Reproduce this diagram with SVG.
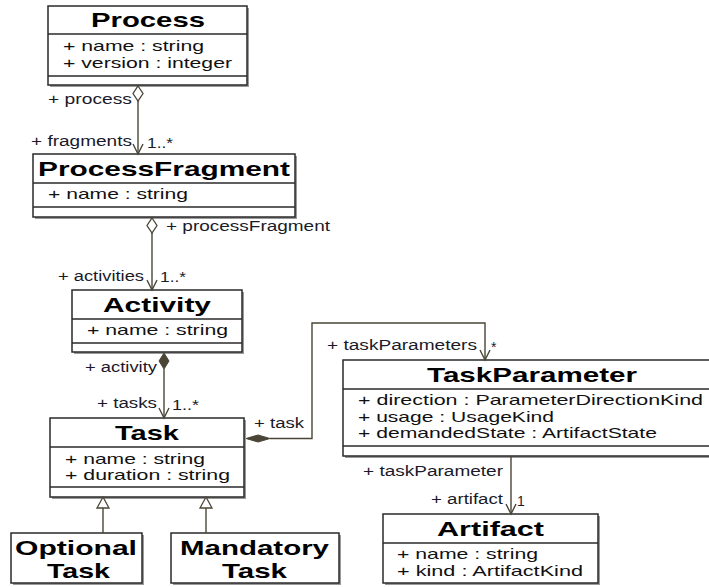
<svg xmlns="http://www.w3.org/2000/svg" width="709" height="587" viewBox="0 0 709 587">
<style>
.sh{fill:#9a9a9a}
.bx{fill:#fff;stroke:#2a2a2a;stroke-width:1.5}
.sep{stroke:#2a2a2a;stroke-width:1.5}
.t{font-family:"Liberation Sans",Arial,sans-serif;font-weight:bold;font-size:21px;fill:#000}
.a{font-family:"Liberation Sans",Arial,sans-serif;font-size:15px;fill:#111}
.l{font-family:"Liberation Sans",Arial,sans-serif;font-size:14px;fill:#1a1a2a}
.c{fill:none;stroke:#4a4536;stroke-width:1.4}
.hd{fill:#fff;stroke:#4a4536;stroke-width:1.3}
.fd{fill:#4a4536;stroke:#4a4536;stroke-width:1}
</style>
<rect width="709" height="587" fill="#fff"/>

<g id="Process">
<rect class="sh" x="50" y="8" width="199" height="79"/>
<rect class="bx" x="48" y="6" width="199" height="79"/>
<line class="sep" x1="48" y1="34" x2="247" y2="34"/>
<line class="sep" x1="48" y1="76" x2="247" y2="76"/>
<text class="t" x="91" y="27" textLength="114" lengthAdjust="spacingAndGlyphs">Process</text>
<text class="a" x="63" y="51" textLength="141" lengthAdjust="spacingAndGlyphs">+ name : string</text>
<text class="a" x="63" y="68" textLength="169" lengthAdjust="spacingAndGlyphs">+ version : integer</text>
</g>

<g id="ProcessFragment">
<rect class="sh" x="35" y="156" width="262" height="63"/>
<rect class="bx" x="33" y="154" width="262" height="63"/>
<line class="sep" x1="33" y1="183" x2="295" y2="183"/>
<line class="sep" x1="33" y1="207" x2="295" y2="207"/>
<text class="t" x="38" y="176" textLength="252" lengthAdjust="spacingAndGlyphs">ProcessFragment</text>
<text class="a" x="48" y="199" textLength="140" lengthAdjust="spacingAndGlyphs">+ name : string</text>
</g>

<g id="Activity">
<rect class="sh" x="74" y="292" width="170" height="62"/>
<rect class="bx" x="72" y="290" width="170" height="62"/>
<line class="sep" x1="72" y1="319" x2="242" y2="319"/>
<line class="sep" x1="72" y1="343" x2="242" y2="343"/>
<text class="t" x="103" y="312" textLength="108" lengthAdjust="spacingAndGlyphs">Activity</text>
<text class="a" x="87" y="335" textLength="141" lengthAdjust="spacingAndGlyphs">+ name : string</text>
</g>

<g id="Task">
<rect class="sh" x="52" y="420" width="194" height="79"/>
<rect class="bx" x="50" y="418" width="194" height="79"/>
<line class="sep" x1="50" y1="447" x2="244" y2="447"/>
<line class="sep" x1="50" y1="487" x2="244" y2="487"/>
<text class="t" x="115" y="440" textLength="64" lengthAdjust="spacingAndGlyphs">Task</text>
<text class="a" x="65" y="464" textLength="140" lengthAdjust="spacingAndGlyphs">+ name : string</text>
<text class="a" x="65" y="480" textLength="165" lengthAdjust="spacingAndGlyphs">+ duration : string</text>
</g>

<g id="OptionalTask">
<rect class="sh" x="13" y="535" width="131" height="50"/>
<rect class="bx" x="11" y="533" width="131" height="50"/>
<text class="t" x="15" y="555" textLength="122" lengthAdjust="spacingAndGlyphs">Optional</text>
<text class="t" x="47" y="578" textLength="63" lengthAdjust="spacingAndGlyphs">Task</text>
</g>

<g id="MandatoryTask">
<rect class="sh" x="173" y="535" width="168" height="50"/>
<rect class="bx" x="171" y="533" width="168" height="50"/>
<text class="t" x="180" y="555" textLength="149" lengthAdjust="spacingAndGlyphs">Mandatory</text>
<text class="t" x="222" y="578" textLength="65" lengthAdjust="spacingAndGlyphs">Task</text>
</g>

<g id="TaskParameter">
<rect class="sh" x="345" y="362" width="380" height="96"/>
<rect class="bx" x="343" y="360" width="380" height="96"/>
<line class="sep" x1="343" y1="389" x2="723" y2="389"/>
<line class="sep" x1="343" y1="446" x2="723" y2="446"/>
<text class="t" x="427" y="382" textLength="210" lengthAdjust="spacingAndGlyphs">TaskParameter</text>
<text class="a" x="358" y="405" textLength="345" lengthAdjust="spacingAndGlyphs">+ direction : ParameterDirectionKind</text>
<text class="a" x="358" y="422" textLength="196" lengthAdjust="spacingAndGlyphs">+ usage : UsageKind</text>
<text class="a" x="358" y="438" textLength="299" lengthAdjust="spacingAndGlyphs">+ demandedState : ArtifactState</text>
</g>

<g id="Artifact">
<rect class="sh" x="385" y="516" width="215" height="69"/>
<rect class="bx" x="383" y="514" width="215" height="69"/>
<line class="sep" x1="383" y1="543" x2="598" y2="543"/>
<text class="t" x="437" y="536" textLength="107" lengthAdjust="spacingAndGlyphs">Artifact</text>
<text class="a" x="397" y="559" textLength="141" lengthAdjust="spacingAndGlyphs">+ name : string</text>
<text class="a" x="397" y="576" textLength="186" lengthAdjust="spacingAndGlyphs">+ kind : ArtifactKind</text>
</g>

<g id="connectors">
<line class="c" x1="138" y1="101" x2="138" y2="154"/>
<polygon class="hd" points="138,86 143,93.5 138,101 133,93.5"/>
<polyline class="c" points="133,144 138,154 143,144"/>
<text class="l" x="48" y="104" textLength="84" lengthAdjust="spacingAndGlyphs">+ process</text>
<text class="l" x="31" y="146" textLength="101" lengthAdjust="spacingAndGlyphs">+ fragments</text>
<text class="l" x="147" y="148" textLength="26" lengthAdjust="spacingAndGlyphs">1..*</text>

<line class="c" x1="152" y1="233" x2="152" y2="290"/>
<polygon class="hd" points="152,218 157,225.5 152,233 147,225.5"/>
<polyline class="c" points="147,280 152,290 157,280"/>
<text class="l" x="166" y="231" textLength="164" lengthAdjust="spacingAndGlyphs">+ processFragment</text>
<text class="l" x="58" y="281" textLength="86" lengthAdjust="spacingAndGlyphs">+ activities</text>
<text class="l" x="160" y="282" textLength="26" lengthAdjust="spacingAndGlyphs">1..*</text>

<line class="c" x1="164" y1="369" x2="164" y2="418"/>
<polygon class="fd" points="164,353 169,361 164,369 159,361"/>
<polyline class="c" points="159,408 164,418 169,408"/>
<text class="l" x="85" y="372" textLength="72" lengthAdjust="spacingAndGlyphs">+ activity</text>
<text class="l" x="97" y="408" textLength="60" lengthAdjust="spacingAndGlyphs">+ tasks</text>
<text class="l" x="172" y="410" textLength="27" lengthAdjust="spacingAndGlyphs">1..*</text>

<polyline class="c" points="270,438.5 312,438.5 312,323 485,323 485,360"/>
<polygon class="fd" points="246,438.5 258,435 270,438.5 258,442"/>
<polyline class="c" points="480,350 485,360 490,350"/>
<text class="l" x="254" y="428" textLength="50" lengthAdjust="spacingAndGlyphs">+ task</text>
<text class="l" x="327" y="350" textLength="150" lengthAdjust="spacingAndGlyphs">+ taskParameters</text>
<text class="l" x="491" y="352">*</text>

<line class="c" x1="511" y1="456" x2="511" y2="514"/>
<polyline class="c" points="506,504 511,514 516,504"/>
<text class="l" x="363" y="476" textLength="140" lengthAdjust="spacingAndGlyphs">+ taskParameter</text>
<text class="l" x="431" y="504" textLength="72" lengthAdjust="spacingAndGlyphs">+ artifact</text>
<text class="l" x="517" y="506">1</text>

<line class="c" x1="103" y1="508" x2="103" y2="533"/>
<polygon class="hd" points="103,497 109,508 97,508"/>
<line class="c" x1="206" y1="508" x2="206" y2="533"/>
<polygon class="hd" points="206,497 212,508 200,508"/>
</g>
</svg>
